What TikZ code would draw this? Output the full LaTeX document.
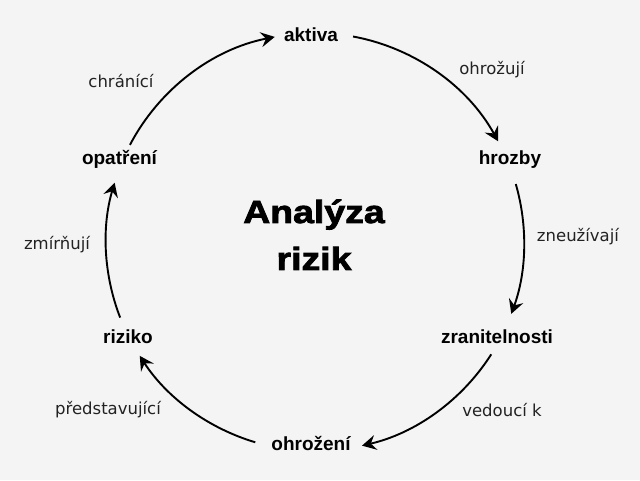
\documentclass[tikz,border=0pt]{standalone}
\usepackage{fontspec}
\setmainfont{Liberation Sans}
\newfontfamily\labelfont{DejaVu Sans}
\newfontfamily\titlefont[FakeStretch=1.17,FakeBold=2.5]{Liberation Sans Bold}
\usetikzlibrary{arrows.meta,calc}
\definecolor{bgc}{RGB}{244,244,244}
\definecolor{lbl}{RGB}{34,34,34}
\tikzset{
  conc/.style={font=\bfseries\fontsize{19}{21}\selectfont, text=black, inner sep=0pt, anchor=base},
  rel/.style={font=\labelfont\fontsize{16.5}{18}\selectfont, text=lbl, inner sep=0pt},
  arr/.style={line width=1.9pt, -{Stealth[length=14pt,width=15pt,inset=5pt]}},
}
\begin{document}
\begin{tikzpicture}[x=1pt,y=1pt]
\fill[bgc] (0,0) rectangle (640,480);
\useasboundingbox (0,0) rectangle (640,480);
\coordinate (C) at (315,238);
\def\R{209pt}
% concept nodes
\node[conc] (ak) at (311,438) {aktiva};
\node[conc] (hr) at (510,315) {hrozby};
\node[conc] (zr) at (497,137) {zranitelnosti};
\node[conc] (oh) at (311,30) {ohrožení};
\node[conc] (ri) at (128,137) {riziko};
\node[conc] (op) at (119.5,315) {opatření};
% title
\node[font=\titlefont\fontsize{32}{47}\selectfont, align=center, inner sep=0pt, anchor=base] (title) at (314,210) {Analýza\\rizik};
% relation labels
\node[rel] (l1) at (121,399) {chránící};
\node[rel] (l2) at (492,410) {ohrožují};
\node[rel] (l3) at (578,243) {zneužívají};
\node[rel] (l4) at (502,70) {vedoucí k};
\node[rel] (l5) at (108,70) {představující};
\node[rel] (l6) at (57,235) {zmírňují};
% arc end points on the circle
\coordinate (s1) at ($(C)+(152.3:\R)$);
\coordinate (s2) at ($(C)+(79.5:\R)$);
\coordinate (s3) at ($(C)+(16.1:\R)$);
\coordinate (s4) at ($(C)+(-32.5:\R)$);
\coordinate (s5) at ($(C)+(253.4:\R)$);
\coordinate (s6) at ($(C)+(201.2:\R)$);
% connectors: op -> ak -> hr -> zr -> oh -> ri -> op
\draw[arr] (s1) arc[start angle=152.3, end angle=101.1, radius=\R];
\draw[arr] (s2) arc[start angle=79.5, end angle=28.8, radius=\R];
\draw[arr] (s3) arc[start angle=16.1, end angle=-20.1, radius=\R];
\draw[arr] (s4) arc[start angle=-32.5, end angle=-77, radius=\R];
\draw[arr] (s5) arc[start angle=253.4, end angle=213, radius=\R];
\draw[arr] (s6) arc[start angle=201.2, end angle=163.5, radius=\R];
\end{tikzpicture}
\end{document}
